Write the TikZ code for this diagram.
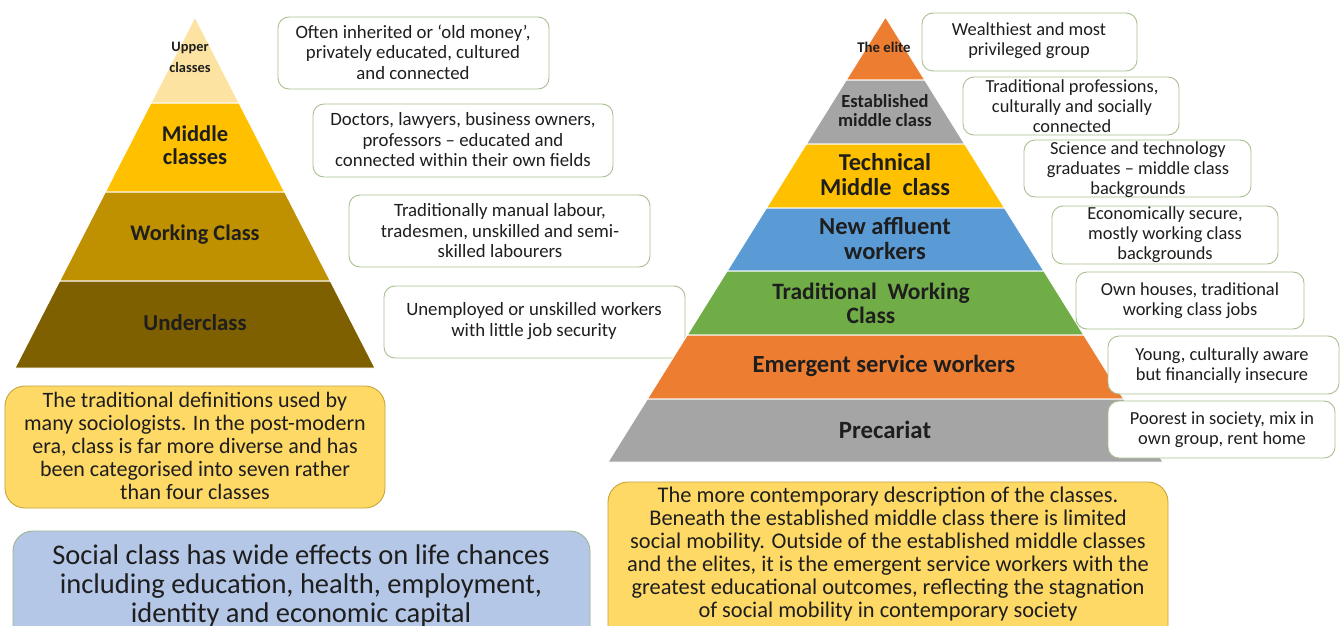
\documentclass[tikz,border=0pt]{standalone}
\usepackage{fontspec}
\setmainfont{Carlito}
\definecolor{boxgreen}{HTML}{A9C08F}
\definecolor{txtdark}{HTML}{1E1E1E}
\definecolor{upperc}{HTML}{FCE3A1}
\definecolor{gold}{HTML}{FFC000}
\definecolor{darkgold}{HTML}{BF9000}
\definecolor{brown}{HTML}{7F6000}
\definecolor{orangeb}{HTML}{ED7D31}
\definecolor{grayb}{HTML}{A5A5A5}
\definecolor{blueb}{HTML}{5B9BD5}
\definecolor{greenb}{HTML}{70AD47}
\definecolor{yellowbox}{HTML}{FFD966}
\definecolor{yellowedge}{HTML}{C6A43C}
\definecolor{bluebox}{HTML}{B4C7E7}
\definecolor{blueedge}{HTML}{9DB394}
\begin{document}
\begin{tikzpicture}[x=1pt,y=-1pt,
  wbox/.style={draw=boxgreen, line width=0.9pt, fill=white, rounded corners=11pt, inner sep=0pt},
  ybox/.style={draw=yellowedge, line width=0.9pt, fill=yellowbox, rounded corners=20pt, inner sep=0pt},
  bbox/.style={draw=blueedge, line width=0.9pt, fill=bluebox, rounded corners=20pt, inner sep=0pt},
  txt/.style={align=center, text=txtdark, inner sep=0pt, font=\fontsize{18.8}{20.5}\selectfont},
  rtxt/.style={align=center, text=txtdark, inner sep=0pt, font=\fontsize{18.4}{20}\selectfont},
  band/.style={draw=white, line width=1pt},
  lab/.style={align=center, text=txtdark, inner sep=0pt, font=\bfseries\fontsize{#1}{24}\selectfont},
  lab/.default=18
]
\clip (0,0) rectangle (1343,626);
\fill[white] (0,0) rectangle (1343,626);

% ---------- left pyramid ----------
\filldraw[band, fill=upperc]   (195,17) -- (239.1,103) -- (150.9,103) -- cycle;
\filldraw[band, fill=gold]     (150.9,103) -- (239.1,103) -- (284.7,192) -- (105.3,192) -- cycle;
\filldraw[band, fill=darkgold] (105.3,192) -- (284.7,192) -- (330.4,281) -- (59.6,281) -- cycle;
\filldraw[band, fill=brown]    (59.6,281) -- (330.4,281) -- (375,368) -- (15,368) -- cycle;

\node[lab=14.4, font=\bfseries\fontsize{14.4}{21}\selectfont] (upper) at (190,57) {Upper\\classes};
\node[lab=22.5, font=\bfseries\fontsize{22.5}{23}\selectfont] (middle) at (195,145) {Middle\\classes};
\node[lab=22.3] (working) at (195,235) {Working Class};
\node[lab=22.8] (under) at (195,323) {Underclass};

% ---------- left description boxes ----------
\node[wbox, minimum width=271pt, minimum height=72pt] (l1box) at (413.5,53) {};
\node[txt] (l1) at (413,52) {Often inherited or ‘old money’,\\privately educated, cultured\\and connected};
\node[wbox, minimum width=300pt, minimum height=73pt] (l2box) at (463,140.5) {};
\node[txt] (l2) at (463,140) {Doctors, lawyers, business owners,\\professors – educated and\\connected within their own fields};
\node[wbox, minimum width=301pt, minimum height=72pt] (l3box) at (499.5,231) {};
\node[txt] (l3) at (500,231) {Traditionally manual labour,\\tradesmen, unskilled and semi-\\skilled labourers};
\node[wbox, minimum width=301pt, minimum height=72pt] (l4box) at (534.5,322) {};
\node[txt] (l4) at (534,321) {Unemployed or unskilled workers\\with little job security};

% ---------- left yellow & blue boxes ----------
\node[ybox, minimum width=380pt, minimum height=122pt] (lybox) at (195,447) {};
\node[align=center, text=txtdark, inner sep=0pt, font=\fontsize{22}{22.8}\selectfont] (lytxt) at (195,446)
  {The traditional definitions used by\\many sociologists. In the post-modern\\era, class is far more diverse and has\\been categorised into seven rather\\than four classes};
\node[bbox, minimum width=577pt, minimum height=130pt] (bbox1) at (301.5,596) {};
\node[align=center, text=txtdark, inner sep=0pt, font=\fontsize{28.5}{29}\selectfont] (btxt) at (301,586)
  {Social class has wide effects on life chances\\including education, health, employment,\\identity and economic capital};

% ---------- right pyramid ----------
\filldraw[band, fill=orangeb] (885.5,17) -- (924.8,80) -- (846.2,80) -- cycle;
\filldraw[band, fill=grayb]   (846.2,80) -- (924.8,80) -- (964.7,144) -- (806.3,144) -- cycle;
\filldraw[band, fill=gold]    (806.3,144) -- (964.7,144) -- (1004.6,208) -- (766.4,208) -- cycle;
\filldraw[band, fill=blueb]   (766.4,208) -- (1004.6,208) -- (1043.9,271) -- (727.1,271) -- cycle;
\filldraw[band, fill=greenb]  (727.1,271) -- (1043.9,271) -- (1083.8,335) -- (687.2,335) -- cycle;
\filldraw[band, fill=orangeb] (687.2,335) -- (1083.8,335) -- (1123.7,399) -- (647.3,399) -- cycle;
\filldraw[band, fill=grayb]   (647.3,399) -- (1123.7,399) -- (1163,462) -- (608,462) -- cycle;

\node[lab=14.8] (elite) at (884,47) {The elite};
\node[lab=18.5, font=\bfseries\fontsize{18.5}{19}\selectfont] (estab) at (885,110.5) {Established\\middle class};
\node[lab=24.3, font=\bfseries\fontsize{24.3}{25}\selectfont] (tech) at (885,174.5) {Technical\\Middle\ \ class};
\node[lab=24.5, font=\bfseries\fontsize{24.5}{25}\selectfont] (newaff) at (885,238.5) {New affluent\\workers};
\node[lab=23.5, font=\bfseries\fontsize{23.5}{24}\selectfont] (trad) at (871,303) {Traditional\ \ Working\\Class};
\node[lab=24.6] (emerg) at (884,366) {Emergent service workers};
\node[lab=24.8] (prec) at (885,430) {Precariat};

% ---------- right description boxes ----------
\node[wbox, minimum width=215pt, minimum height=58pt] (r1box) at (1029.5,42) {};
\node[rtxt] (r1) at (1029,41) {Wealthiest and most\\privileged group};
\node[wbox, minimum width=216pt, minimum height=58pt] (r2box) at (1071,106) {};
\node[rtxt] (r2) at (1072,106) {Traditional professions,\\culturally and socially\\connected};
\node[wbox, minimum width=227pt, minimum height=57pt] (r3box) at (1137.5,168.5) {};
\node[rtxt] (r3) at (1138,170) {Science and technology\\graduates – middle class\\backgrounds};
\node[wbox, minimum width=226pt, minimum height=58pt] (r4box) at (1165,235) {};
\node[rtxt] (r4) at (1165,235) {Economically secure,\\mostly working class\\backgrounds};
\node[wbox, minimum width=228pt, minimum height=57pt] (r5box) at (1190,300.5) {};
\node[rtxt] (r5) at (1190,301) {Own houses, traditional\\working class jobs};
\node[wbox, minimum width=231pt, minimum height=58pt] (r6box) at (1223.5,365) {};
\node[rtxt] (r6) at (1222,366) {Young, culturally aware\\but financially insecure};
\node[wbox, minimum width=227pt, minimum height=57pt] (r7box) at (1221.5,429.5) {};
\node[rtxt] (r7) at (1222,430) {Poorest in society, mix in\\own group, rent home};

% ---------- right yellow box ----------
\node[ybox, minimum width=560pt, minimum height=170pt] (rybox) at (888,567) {};
\node[align=center, text=txtdark, inner sep=0pt, font=\fontsize{22.4}{23}\selectfont] (rytxt) at (888,554.5)
  {The more contemporary description of the classes.\\Beneath the established middle class there is limited\\social mobility. Outside of the established middle classes\\and the elites, it is the emergent service workers with the\\greatest educational outcomes, reflecting the stagnation\\of social mobility in contemporary society};
\end{tikzpicture}
\end{document}
